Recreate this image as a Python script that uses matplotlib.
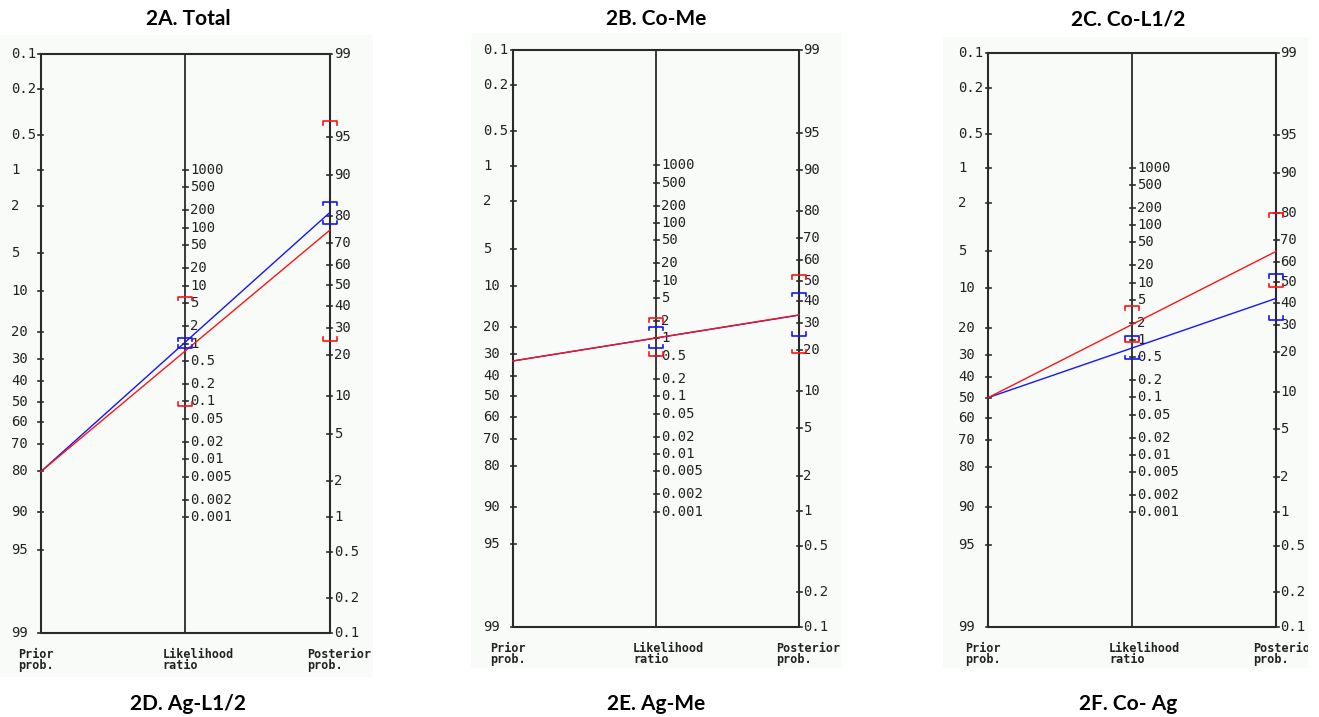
import numpy as np
import matplotlib
matplotlib.use("Agg")
import matplotlib.pyplot as plt

# panel titles
titles_top = ["2A. Total", "2B. Co-Me", "2C. Co-L1/2"]
titles_bottom = ["2D. Ag-L1/2", "2E. Ag-Me", "2F. Co- Ag"]

# nomogram scales
prob_ticks = [0.1, 0.2, 0.5, 1, 2, 5, 10, 20, 30, 40, 50, 60, 70, 80, 90, 95, 99]
lr_ticks = [1000, 500, 200, 100, 50, 20, 10, 5, 2, 1, 0.5, 0.2, 0.1,
            0.05, 0.02, 0.01, 0.005, 0.002, 0.001]

# (probabilities in %)
prior = [80, 33, 50]
post_blue = [81, 33.4, 42]
lr_ci_blue = [(0.83, 1.26), (0.68, 1.6), (0.46, 1.17)]
post_ci_blue = [(77, 84), (25, 44), (32, 54)]
post_red = [75, 33.5, 65]
lr_ci_red = [(0.085, 6.4), (0.5, 2.24), (0.91, 3.9)]
post_ci_red = [(25, 96.3), (19, 52.7), (47.5, 80)]

W, H = 1319, 717
# frame in pixels: left axis x, right axis x, top y, bottom y ; background box
frames = [(41, 330, 54, 633), (513, 799, 50, 627), (988, 1276, 53, 627)]
boxes = [(0, 35, 373, 677), (471, 33, 842, 668), (943, 37, 1308, 668)]
title_x = [188, 656, 1128]


def logit(pct):
    p = np.asarray(pct, dtype=float) / 100.0
    return np.log(p / (1 - p))


TOP = float(-logit(0.1))
BOT = float(-logit(99))
OFF = TOP - float(logit(99))


def y_prior(p):
    return -logit(p)


def y_post(p):
    return logit(p) + OFF


def y_lr(lr):
    return (np.log(lr) + OFF) / 2


fig = plt.figure(figsize=(W / 100, H / 100), dpi=100)
mono = "DejaVu Sans Mono"
axc = "#2a2a2a"
PT = 0.72  # points per pixel

for i in range(3):
    xl, xr, yt, yb = frames[i]
    x0, y0, x1, y1 = boxes[i]
    ax = fig.add_axes([x0 / W, 1 - y1 / H, (x1 - x0) / W, (y1 - y0) / H])
    ax.set_facecolor("#f9fbf9")
    for s in ax.spines.values():
        s.set_visible(False)
    ax.set_xticks([])
    ax.set_yticks([])
    ppx = (xr - xl) / 2
    ppy = (yb - yt) / (TOP - BOT)
    ax.set_xlim((x0 - xl) / ppx, (x1 - xl) / ppx)
    ax.set_ylim(BOT - (y1 - yb) / ppy, TOP + (yt - y0) / ppy)

    # frame and axes
    ax.plot([0, 2, 2, 0, 0], [TOP, TOP, BOT, BOT, TOP], color=axc, lw=1.5, zorder=2)
    ax.plot([1, 1], [TOP, BOT], color=axc, lw=1.3, zorder=2)

    tk = 2.5 / ppx
    for v in prob_ticks:
        yl = y_prior(v)
        ax.plot([-tk, tk], [yl, yl], color=axc, lw=1.2)
        ax.annotate(f"{v:g}", (0, yl), xytext=(-30 * PT, 0), textcoords="offset points",
                    ha="left", va="center", fontsize=10, family=mono, color="#222")
        yr = y_post(v)
        ax.plot([2 - tk, 2 + tk], [yr, yr], color=axc, lw=1.2)
        ax.annotate(f"{v:g}", (2, yr), xytext=(4 * PT, 0), textcoords="offset points",
                    ha="left", va="center", fontsize=10, family=mono, color="#222")
    for v in lr_ticks:
        ym = y_lr(v)
        ax.plot([1 - tk, 1 + tk], [ym, ym], color=axc, lw=1.2)
        ax.annotate(f"{v:g}", (1, ym), xytext=(5 * PT, 0), textcoords="offset points",
                    ha="left", va="center", fontsize=10, family=mono, color="#222")

    for xa, lab in zip([0, 1, 2], ["Prior\nprob.", "Likelihood\nratio", "Posterior\nprob."]):
        ax.annotate(lab, (xa, BOT), xytext=(-23 * PT, -15 * PT), textcoords="offset points",
                    ha="left", va="top", fontsize=8.5, family=mono, weight="bold",
                    linespacing=0.78, color="#222", annotation_clip=False, clip_on=True)

    hw = 7 / ppx
    hd = 3.5 / ppy
    series = [("#1414ff", post_blue[i], lr_ci_blue[i], post_ci_blue[i]),
              ("#ff1414", post_red[i], lr_ci_red[i], post_ci_red[i])]
    for col, post, lrci, pci in series:
        ax.plot([0, 2], [y_prior(prior[i]), y_post(post)], color=col, lw=1.0, zorder=3)
        for xa, (lo, hi) in [(1, (y_lr(lrci[0]), y_lr(lrci[1]))),
                             (2, (y_post(pci[0]), y_post(pci[1])))]:
            ax.plot([xa - hw, xa - hw, xa + hw, xa + hw], [hi - hd, hi, hi, hi - hd],
                    color=col, lw=1.2, zorder=4)
            ax.plot([xa - hw, xa - hw, xa + hw, xa + hw], [lo + hd, lo, lo, lo + hd],
                    color=col, lw=1.2, zorder=4)

    fig.text(title_x[i] / W, 1 - 19 / H, titles_top[i], ha="center", va="center",
             fontsize=15, weight="bold", family="Lato")
    fig.text(title_x[i] / W, 1 - 704 / H, titles_bottom[i], ha="center", va="center",
             fontsize=15, weight="bold", family="Lato")

fig.savefig("out.png", dpi=100, facecolor="white")
